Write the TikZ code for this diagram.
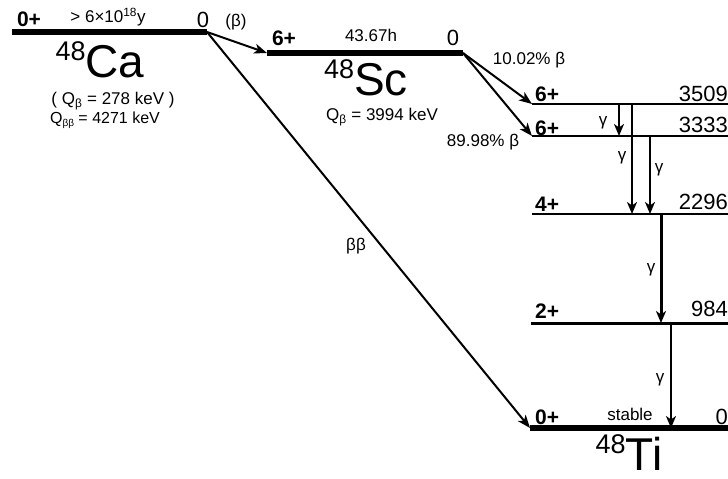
\documentclass[tikz,border=0pt]{standalone}
\usepackage{fontspec}
\setmainfont{Liberation Sans}
\usetikzlibrary{arrows.meta,positioning}

\begin{document}
\begin{tikzpicture}[x=1pt, y=-1pt,
  level/.style={line width=5.5pt},
  sublevel/.style={line width=2.7pt},
  decay/.style={-{Stealth[length=13pt,width=10pt,inset=3.5pt]}, line width=2pt},
  gammaray/.style={-{Stealth[length=12pt,width=10pt,inset=3.5pt]}, line width=2pt},
  spin/.style={font=\fontsize{21}{21}\selectfont\bfseries, inner sep=0pt},
  energy/.style={font=\fontsize{22}{22}\selectfont, inner sep=0pt},
  lbl/.style={font=\fontsize{17}{17}\selectfont, inner sep=0pt},
  nuc/.style={font=\fontsize{46}{46}\selectfont, inner sep=0pt, anchor=base}
]
\useasboundingbox (0,0) rectangle (728,479);

% level ends
\coordinate (caL) at (12,32);
\coordinate (caR) at (207,32);
\coordinate (scL) at (267,53);
\coordinate (scR) at (463,53);
\coordinate (l1L) at (532,104);
\coordinate (l1R) at (728,104);
\coordinate (l2L) at (532,136);
\coordinate (l2R) at (728,136);
\coordinate (l3L) at (532,214);
\coordinate (l3R) at (728,214);
\coordinate (l4L) at (531,323);
\coordinate (l4R) at (728,323);
\coordinate (tiL) at (530,428);
\coordinate (tiR) at (728,428);

\draw[level] (caL) -- (caR);
\draw[level] (scL) -- (scR);
\draw[line width=1.8pt] (l1L) -- (l1R);
\draw[sublevel] (l2L) -- (l2R);
\draw[sublevel] (l3L) -- (l3R);
\draw[line width=3pt] (l4L) -- (l4R);
\draw[level] (tiL) -- (tiR);

% 48Ca
\node[spin] (ca-spin) at (29,19) {0+};
\node[lbl] (ca-life) at (108,17) {> 6×10\textsuperscript{18}y};
\node[energy] (ca-e) at (203,20) {0};
\node[nuc] (ca) at (100,77) {{\fontsize{27}{27}\selectfont\raisebox{17pt}{48}}Ca};
\node[lbl] (ca-qb) at (113,101) {( Q\textsubscript{β} = 278 keV )};
\node[lbl, font=\fontsize{16}{16}\selectfont] (ca-qbb) at (105,120) {Q{\fontsize{10}{10}\selectfont\raisebox{-3pt}{ββ}} = 4271 keV};

% 48Sc
\node[spin] (sc-spin) at (284,38) {6+};
\node[lbl] (sc-life) at (371,35) {43.67h};
\node[energy] (sc-e) at (453,38) {0};
\node[nuc] (sc) at (366,95) {{\fontsize{27}{27}\selectfont\raisebox{17pt}{48}}Sc};
\node[lbl] (sc-qb) at (382,117) {Q\textsubscript{β} = 3994 keV};

% 48Ti
\node[spin, anchor=west] (s3509) at (535,94) {6+};
\node[spin, anchor=west] (s3333) at (535,128) {6+};
\node[spin, anchor=west] (s2296) at (535,204) {4+};
\node[spin, anchor=west] (s984) at (535,311) {2+};
\node[spin, anchor=west] (s0) at (535,417) {0+};
\node[energy, anchor=east] (e3509) at (728,94) {3509};
\node[energy, anchor=east] (e3333) at (728,125) {3333};
\node[energy, anchor=east] (e2296) at (728,202) {2296};
\node[energy, anchor=east] (e984) at (728,309) {984};
\node[energy, anchor=east] (e0) at (728,417) {0};
\node[lbl] (stable) at (630,414) {stable};
\node[nuc] (ti) at (629,470) {{\fontsize{27}{27}\selectfont\raisebox{17pt}{48}}Ti};

% decays
\draw[decay] (caR) -- (scL);
\node[lbl] (beta) at (236,22) {(β)};
\draw[decay] (caR) -- (tiL);
\node[lbl] (bb) at (356,246) {ββ};
\draw[decay] (scR) -- (l1L);
\draw[decay] (scR) -- (l2L);
\node[lbl] (br1) at (529,60) {10.02\% β};
\node[lbl] (br2) at (483,142) {89.98\% β};

% gammas
\coordinate (g1) at (619,0);
\coordinate (g2) at (632,0);
\coordinate (g3) at (650,0);
\coordinate (g4) at (661,0);
\coordinate (g5) at (671,0);
\draw[gammaray] (g1 |- l1L) -- (g1 |- l2L);
\draw[gammaray] (g2 |- l1L) -- (g2 |- l3L);
\draw[gammaray] (g3 |- l2L) -- (g3 |- l3L);
\draw[gammaray, line width=3pt] (g4 |- l3L) -- (g4 |- l4L);
\draw[gammaray, line width=2.4pt] (g5 |- l4L) -- (g5 |- tiL);
\node[lbl] (ga1) at (603,123) {γ};
\node[lbl] (ga2) at (622,158) {γ};
\node[lbl] (ga3) at (659,170) {γ};
\node[lbl] (ga4) at (651,270) {γ};
\node[lbl] (ga5) at (660,380) {γ};

\end{tikzpicture}
\end{document}
